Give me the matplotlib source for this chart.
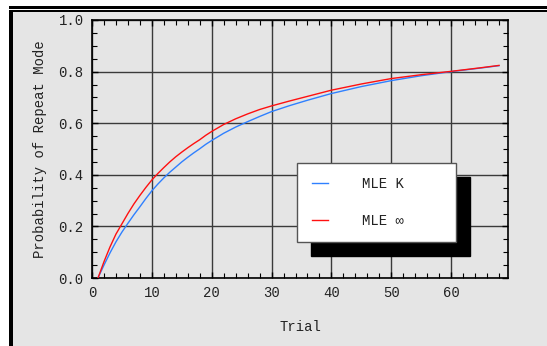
import matplotlib
matplotlib.use("Agg")
import matplotlib.pyplot as plt
from matplotlib.patches import Rectangle
from matplotlib.ticker import MultipleLocator

plt.rcParams['font.family'] = ['Liberation Mono', 'DejaVu Sans Mono']

trials = [1, 2, 3, 4, 5, 6, 7, 8, 9, 10, 11, 12, 13, 14, 15, 16, 17, 18, 19, 20,
          22, 24, 26, 28, 30, 33, 36, 40, 45, 50, 55, 60, 65, 68]
mle_k = [0.0, 0.05, 0.097, 0.14, 0.178, 0.212, 0.245, 0.276, 0.308, 0.338, 0.364,
         0.388, 0.41, 0.43, 0.45, 0.468, 0.485, 0.501, 0.518, 0.533,
         0.561, 0.585, 0.606, 0.626, 0.645, 0.668, 0.689, 0.715, 0.742, 0.765,
         0.784, 0.800, 0.814, 0.823]
mle_inf = [0.0, 0.063, 0.12, 0.17, 0.21, 0.25, 0.287, 0.32, 0.351, 0.38, 0.405,
           0.428, 0.45, 0.47, 0.488, 0.505, 0.521, 0.536, 0.553, 0.568,
           0.595, 0.617, 0.636, 0.653, 0.667, 0.686, 0.704, 0.728, 0.752, 0.773,
           0.788, 0.801, 0.815, 0.824]
labels = ["MLE K", "MLE \u221e"]
colors = ["#2f80ff", "#ff1010"]

W, H = 547, 346
fig = plt.figure(figsize=(W / 100, H / 100), dpi=100, facecolor="white")

def px_rect(x0, y0, x1, y1, color):
    fig.patches.append(Rectangle((x0 / W, 1 - y1 / H), (x1 - x0) / W, (y1 - y0) / H,
                                 transform=fig.transFigure, facecolor=color,
                                 edgecolor="none", zorder=-10))

bg = "#e5e5e5"
px_rect(13, 12, W, H, bg)
px_rect(9, 6, W, 8.5, "black")
px_rect(9, 9.8, W, 12, "black")
px_rect(9, 9.8, 13, H, "black")

ax = fig.add_axes([92 / W, 1 - 278 / H, 416 / W, 258 / H])
ax.set_facecolor(bg)

for y, lab, c in zip([mle_k, mle_inf], labels, colors):
    ax.plot(trials, y, color=c, lw=1.0, label=lab, zorder=3)

ax.set_xlim(0, 69.5)
ax.set_ylim(0, 1.0)
ax.xaxis.set_major_locator(MultipleLocator(10))
ax.xaxis.set_minor_locator(MultipleLocator(2))
ax.yaxis.set_major_locator(MultipleLocator(0.2))
ax.yaxis.set_minor_locator(MultipleLocator(0.05))
ax.xaxis.set_major_formatter(matplotlib.ticker.FuncFormatter(lambda v, p: f"{int(v)}" if v < 65 else ""))
ax.yaxis.set_major_formatter(matplotlib.ticker.FormatStrFormatter("%.1f"))
ax.grid(True, which="major", color="#3a3a3a", lw=1.0, zorder=1)
ax.tick_params(which="both", direction="in", top=True, right=True, colors="black",
               labelcolor="#222222", labelsize=10)
ax.tick_params(which="major", length=4, width=1, pad=6)
ax.tick_params(which="minor", length=3.5, width=0.8)
for s in ax.spines.values():
    s.set_linewidth(1.2)
    s.set_color("black")

ax.set_xlabel("Trial", fontsize=10, color="#222222", labelpad=14)
ax.set_ylabel("Probability of Repeat Mode", fontsize=10, color="#222222", labelpad=8)

x0 = (297.3 - 92) / 416
w = 158.4 / 416
ytop = (278 - 162.7) / 258
leg = ax.legend(loc="upper left", bbox_to_anchor=(x0, ytop - 0.3, w, 0.3), mode="expand",
                borderaxespad=0, fancybox=False, framealpha=1, edgecolor="#555555",
                facecolor="white", handlelength=1.15, handletextpad=2.45, borderpad=1.05,
                labelspacing=1.6, fontsize=10,
                shadow={"ox": 10, "oy": -10, "color": "black", "alpha": 1})
leg.get_frame().set_linewidth(1.0)
for t in leg.get_texts():
    t.set_color("#222222")

fig.savefig("out.png", dpi=100, facecolor=fig.get_facecolor())
